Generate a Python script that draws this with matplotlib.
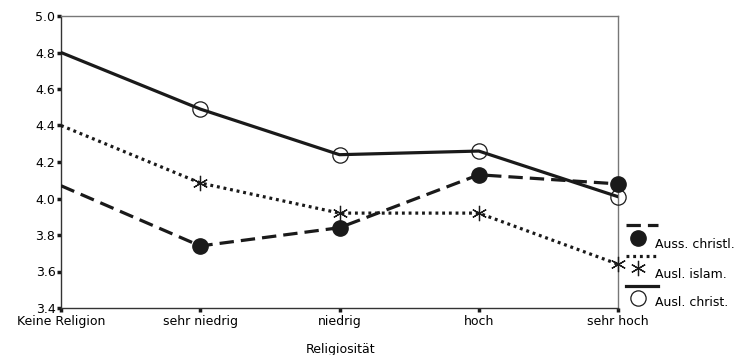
import matplotlib
matplotlib.use("Agg")
import matplotlib.pyplot as plt
from matplotlib.lines import Line2D

plt.rcParams['font.family'] = ['DejaVu Sans']

categories = ["Keine Religion", "sehr niedrig", "niedrig", "hoch", "sehr hoch"]
auss_christl = [4.07, 3.74, 3.84, 4.13, 4.08]
ausl_islam = [4.40, 4.085, 3.92, 3.92, 3.64]
ausl_christ = [4.80, 4.49, 4.24, 4.26, 4.01]
series_labels = ["Auss. christl.", "Ausl. islam.", "Ausl. christ."]
yticks = [3.4, 3.6, 3.8, 4.0, 4.2, 4.4, 4.6, 4.8, 5.0]

FS = 9
W, H = 746, 355
fig = plt.figure(figsize=(W / 100, H / 100), dpi=100)
ax = fig.add_axes([61 / W, 1 - 308 / H, (618 - 61) / W, (308 - 16) / H])

x = list(range(len(categories)))
dash_style = dict(color='#1a1a1a', lw=2.3, dashes=(4.5, 2.2))
dot_style = dict(color='#1a1a1a', lw=2.3, dashes=(0.9, 1.2))
solid_style = dict(color='#1a1a1a', lw=2.3)

ax.plot(x, auss_christl, **dash_style, zorder=3)
ax.plot(x, ausl_islam, **dot_style, zorder=3)
ax.plot(x, ausl_christ, **solid_style, zorder=3)

mk_circle = dict(marker='o', ms=11, mfc='#1a1a1a', mec='#1a1a1a', ls='none')
mk_star = dict(marker=(6, 2, 0), ms=11, mew=0.9, mec='#1a1a1a', ls='none')
mk_open = dict(marker='o', ms=11, mfc='none', mec='#1a1a1a', mew=0.9, ls='none')

ax.plot(x[1:], auss_christl[1:], **mk_circle, zorder=4, clip_on=False)
ax.plot(x[1:], ausl_islam[1:], **mk_star, zorder=4, clip_on=False)
ax.plot(x[1:], ausl_christ[1:], **mk_open, zorder=4, clip_on=False)

ax.set_xlim(0, 4)
ax.set_ylim(3.4, 5.0)
ax.set_yticks(yticks)
ax.set_yticklabels([f"{v:.1f}" for v in yticks])
ax.set_xticks(x)
ax.set_xticklabels(categories)
ax.tick_params(axis='both', labelsize=FS, length=3, width=2.5, color='#1a1a1a')
ax.tick_params(axis='y', pad=1)
ax.tick_params(axis='x', pad=2)
for lbl in ax.get_yticklabels():
    lbl.set_verticalalignment('center_baseline')
for s in ax.spines.values():
    s.set_color('#777777')
    s.set_linewidth(1.0)
ax.spines['left'].set_color('#333333')
ax.spines['bottom'].set_color('#333333')
fig.text(341 / W, 1 - 349 / H, "Religiosität", ha='center', va='center', fontsize=FS)

def fx(px):
    return px / W

def fy(py):
    return 1 - py / H

legend_rows = [
    (225, 238, 245, dash_style, mk_circle),
    (256, 268, 274, dot_style, mk_star),
    (286, 298, 303, solid_style, mk_open),
]
for (ly, my, ty, lstyle, mstyle), lab in zip(legend_rows, series_labels):
    fig.add_artist(Line2D([fx(626), fx(658)], [fy(ly), fy(ly)], transform=fig.transFigure, **lstyle))
    fig.add_artist(Line2D([fx(638)], [fy(my)], transform=fig.transFigure, **mstyle))
    fig.text(fx(655), fy(ty), lab, ha='left', va='center', fontsize=FS)

fig.savefig("out.png", dpi=100)
